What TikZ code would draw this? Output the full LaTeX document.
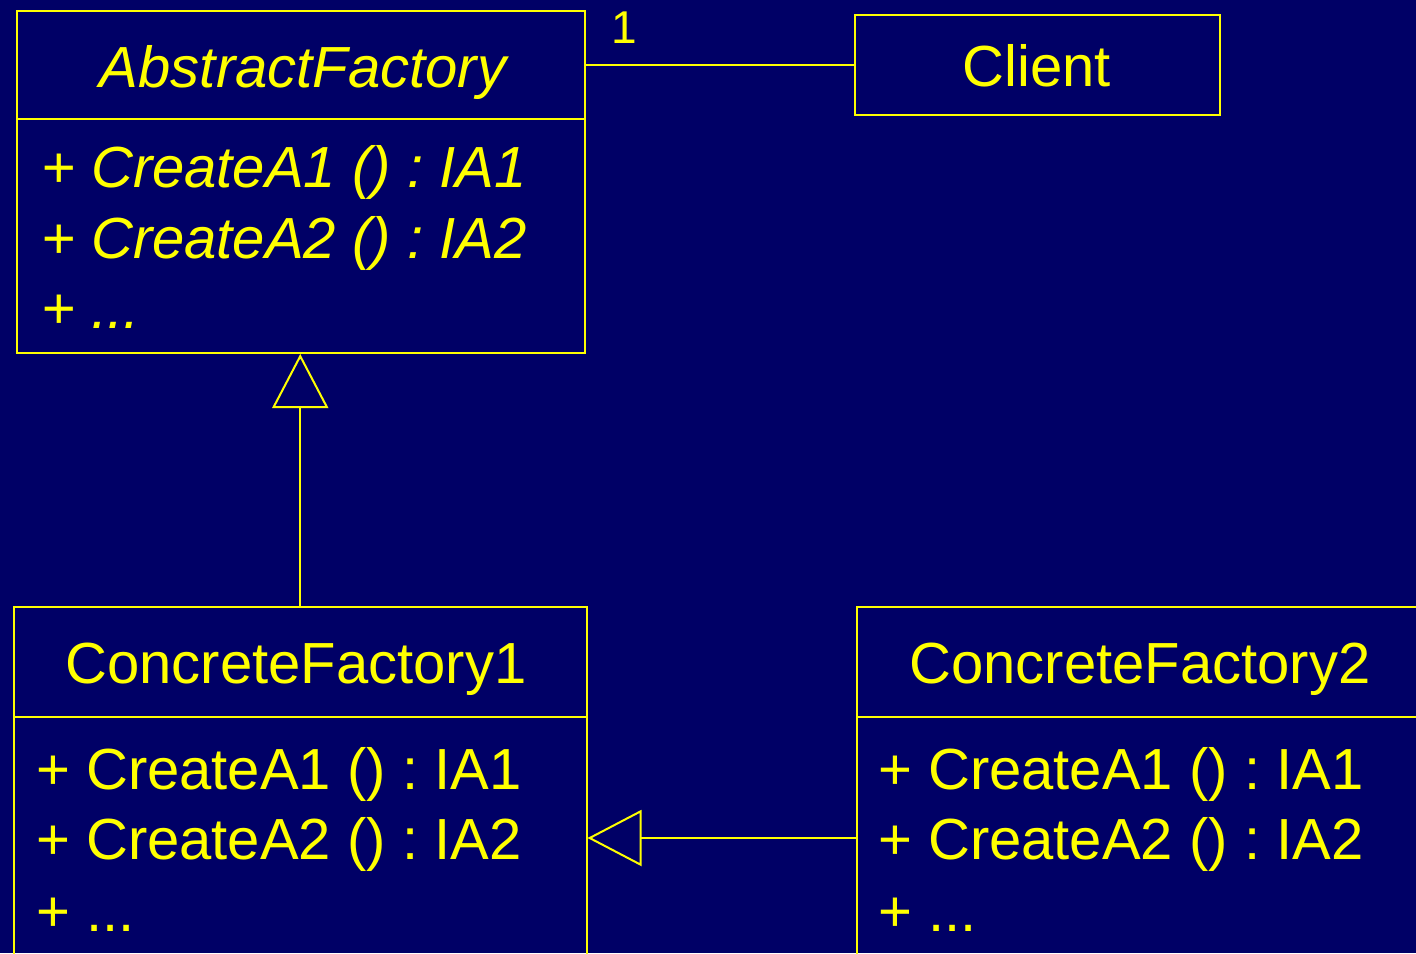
\documentclass[tikz,border=0pt]{standalone}
\usepackage{fontspec}
\setmainfont{Liberation Sans}
\usetikzlibrary{arrows.meta}
\definecolor{bgnavy}{RGB}{0,0,102}
\definecolor{umlyellow}{RGB}{255,255,0}
\frenchspacing
\begin{document}
\frenchspacing
\begin{tikzpicture}[x=1pt,y=-1pt,
  compart/.style={draw=umlyellow, line width=2pt, rectangle, inner sep=0pt, anchor=north west},
  conn/.style={draw=umlyellow, line width=2pt},
  genarrow/.style={conn, -{Triangle[open,length=54pt,width=56pt]}, line join=miter},
  bigtext/.style={text=umlyellow, inner sep=0pt, font=\fontsize{58}{70}\selectfont\frenchspacing},
  smalltext/.style={text=umlyellow, inner sep=0pt, font=\fontsize{46}{55}\selectfont},
  mline/.style={bigtext, anchor=base west},
  titletext/.style={bigtext, anchor=base}
]
\fill[bgnavy] (0,0) rectangle (1416,953);
\useasboundingbox (0,0) rectangle (1416,953);
\clip (0,0) rectangle (1416,953);

% AbstractFactory
\node[compart, minimum width=567.5pt, minimum height=108pt] (afHead) at (16,10) {};
\node[compart, minimum width=567.5pt, minimum height=234pt] (afBody) at (16,118) {};
\node[titletext] (afTitle) at (303,87) {\itshape AbstractFactory};
\node[mline] (afM1) at (41,187) {\itshape + CreateA1 () : IA1};
\node[mline] (afM2) at (41,258) {\itshape + CreateA2 () : IA2};
\node[mline] (afM3) at (41,328) {\itshape + ...};

% Client
\node[compart, minimum width=364.5pt, minimum height=100pt] (client) at (854,14) {};
\node[titletext] (clientTitle) at (1037,86) {Client};

% ConcreteFactory1
\node[compart, minimum width=572.5pt, minimum height=110pt] (cfaHead) at (13,606) {};
\node[compart, minimum width=572.5pt, minimum height=242pt] (cfaBody) at (13,716) {};
\node[titletext] (cfaTitle) at (296,683) {ConcreteFactory1};
\node[mline] (cfaM1) at (36,789) {+ CreateA1 () : IA1};
\node[mline] (cfaM2) at (36,859) {+ CreateA2 () : IA2};
\node[mline] (cfaM3) at (36,931) {+ ...};

% ConcreteFactory2
\node[compart, minimum width=572.5pt, minimum height=110pt] (cfbHead) at (855.5,606) {};
\node[compart, minimum width=572.5pt, minimum height=242pt] (cfbBody) at (855.5,716) {};
\node[titletext] (cfbTitle) at (1140,683) {ConcreteFactory2};
\node[mline] (cfbM1) at (878,789) {+ CreateA1 () : IA1};
\node[mline] (cfbM2) at (878,859) {+ CreateA2 () : IA2};
\node[mline] (cfbM3) at (878,931) {+ ...};

% connectors
\draw[conn] (afHead.east) -- (client.west);
\node[smalltext, anchor=base] (mult) at (624,43) {1};
\draw[genarrow] (cfaHead.north) -- (cfaHead.north |- afBody.south);
\draw[genarrow] (cfbBody.west) -- (cfaBody.east);
\end{tikzpicture}
\end{document}
